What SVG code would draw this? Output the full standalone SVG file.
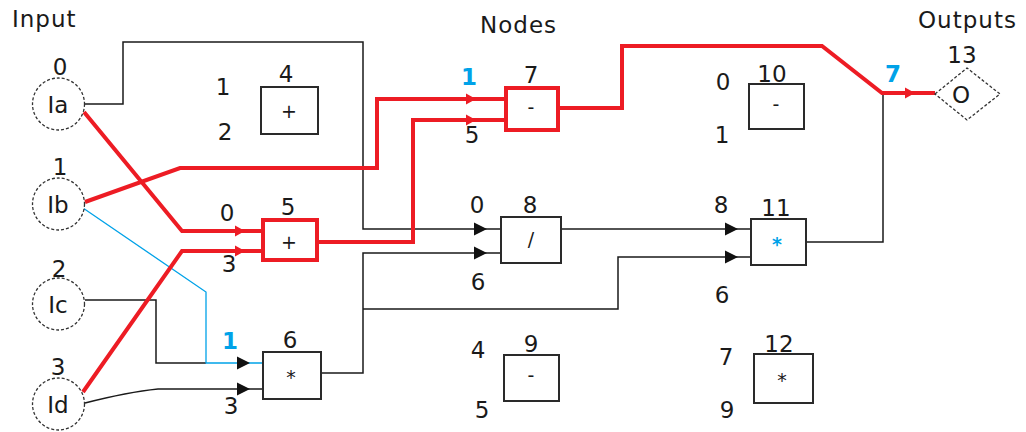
<svg xmlns="http://www.w3.org/2000/svg" width="1026" height="432" viewBox="0 0 1026 432">
<style>
text{font-family:"DejaVu Sans","Liberation Sans",sans-serif;font-size:23px;fill:#1a1a1a;text-anchor:middle}
.hd{text-anchor:start;letter-spacing:1px}
.op{font-size:19px}
.bl{fill:#00a2e8;font-weight:bold}
.box{fill:#fff;stroke:#2a2a2a;stroke-width:2}
.rbox{fill:#fff;stroke:#ed1c24;stroke-width:4}
.inp{fill:#fff;stroke:#333;stroke-width:1.3;stroke-dasharray:3 2}
.k{fill:none;stroke:#1a1a1a;stroke-width:1.5}
.r{fill:none;stroke:#ed1c24;stroke-width:4;stroke-linejoin:miter}
.b{fill:none;stroke:#00a2e8;stroke-width:1.3}
</style>
<defs>
<path id="ak" d="M0,0 L-13,-6.5 L-13,6.5 Z"/>
<path id="ar" d="M0,0 L-10,-5.5 L-10,5.5 Z"/>
</defs>
<rect width="1026" height="432" fill="#fff"/>
<g id="headers">
<text class="hd" x="12" y="27">Input</text>
<text class="hd" x="480" y="33">Nodes</text>
<text class="hd" x="918" y="28">Outputs</text>
</g>
<g id="connectors">
<path class="k" d="M85,104 H123 V42 H363 V229 H501"/>
<path class="k" d="M321,373 H363 V253 H501"/>
<path class="k" d="M363,309 H618 V257 H751"/>
<path class="k" d="M561,229 H751"/>
<path class="k" d="M806,242 H883 V93"/>
<path class="k" d="M85,300 H156 V363 H206"/>
<path class="k" d="M85,403 Q128,392 158,389 H263"/>
<path class="b" d="M83,208 L206,292 V363 H263"/>
<path class="r" d="M84,112 L182,231 H263"/>
<path class="r" d="M85,202 L180,168 H377 V99 H506"/>
<path class="r" d="M83,392 L182,251 H263"/>
<path class="r" d="M319,242 H413 V120 H506"/>
<path class="r" d="M560,108 H622 V46 H822 L882,93 H935"/>
<g fill="#111">
<use href="#ak" transform="translate(487,229)"/>
<use href="#ak" transform="translate(487,253)"/>
<use href="#ak" transform="translate(738,229)"/>
<use href="#ak" transform="translate(738,257)"/>
<use href="#ak" transform="translate(250,363)"/>
<use href="#ak" transform="translate(250,389)"/>
</g>
<g fill="#ed1c24">
<use href="#ar" transform="translate(245,231)"/>
<use href="#ar" transform="translate(245,251)"/>
<use href="#ar" transform="translate(476,99)"/>
<use href="#ar" transform="translate(476,120)"/>
<use href="#ar" transform="translate(915,93)"/>
</g>
</g>
<g id="node-Ia"><circle class="inp" cx="58.5" cy="104" r="26"/><text x="58" y="113">Ia</text><text x="60" y="75">0</text></g>
<g id="node-Ib"><circle class="inp" cx="58.5" cy="204" r="26"/><text x="58" y="213">Ib</text><text x="60" y="175">1</text></g>
<g id="node-Ic"><circle class="inp" cx="58.5" cy="304" r="26"/><text x="58" y="313">Ic</text><text x="59" y="277">2</text></g>
<g id="node-Id"><circle class="inp" cx="58.5" cy="404" r="26"/><text x="58" y="413">Id</text><text x="58" y="375">3</text></g>
<g id="node-4"><rect class="box" x="261" y="87" width="57" height="47"/><text class="op" x="289" y="118">+</text><text x="286" y="82">4</text><text x="223" y="95">1</text><text x="225" y="140">2</text></g>
<g id="node-5"><rect class="rbox" x="263" y="220" width="54" height="40"/><text class="op" x="289" y="249">+</text><text x="288" y="215">5</text><text x="227" y="221">0</text><text x="229" y="272">3</text></g>
<g id="node-6"><rect class="box" x="263" y="352" width="58" height="47"/><text class="op" x="291" y="384">*</text><text x="290" y="348">6</text><text class="bl" x="230" y="349">1</text><text x="231" y="414">3</text></g>
<g id="node-7"><rect class="rbox" x="506" y="88" width="52" height="42"/><text class="op" x="531" y="114">-</text><text x="531" y="83">7</text><text class="bl" x="469" y="85">1</text><text x="472" y="143">5</text></g>
<g id="node-8"><rect class="box" x="501" y="217" width="60" height="46"/><text class="op" x="531" y="246">/</text><text x="530" y="213">8</text><text x="477" y="213">0</text><text x="478" y="290">6</text></g>
<g id="node-9"><rect class="box" x="504" y="355" width="55" height="46"/><text class="op" x="531" y="382">-</text><text x="531" y="352">9</text><text x="478" y="358">4</text><text x="482" y="418">5</text></g>
<g id="node-10"><rect class="box" x="749" y="84" width="55" height="45"/><text class="op" x="776" y="111">-</text><text x="772" y="82">10</text><text x="723" y="90">0</text><text x="722" y="143">1</text></g>
<g id="node-11"><rect class="box" x="751" y="219" width="55" height="46"/><text class="op bl" x="777" y="251">*</text><text x="776" y="216">11</text><text x="721" y="213">8</text><text x="722" y="303">6</text></g>
<g id="node-12"><rect class="box" x="754" y="354" width="59" height="49"/><text class="op" x="782" y="387">*</text><text x="779" y="352">12</text><text x="726" y="365">7</text><text x="727" y="418">9</text></g>
<g id="node-13"><polygon class="inp" points="935,94 967,68 1000,94 967,120"/><text x="961" y="103">O</text><text x="962" y="63">13</text><text class="bl" x="893" y="82">7</text></g>
</svg>
